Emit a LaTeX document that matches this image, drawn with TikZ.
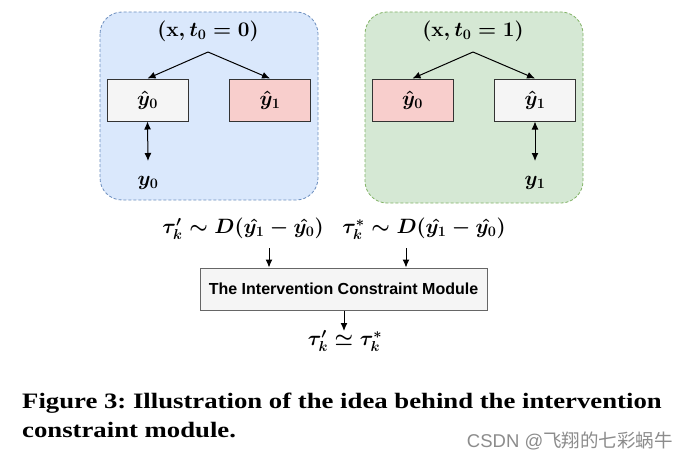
\documentclass[tikz,border=0pt]{standalone}
\usepackage{amsmath,bm}
\usepackage{fontspec}
\usetikzlibrary{arrows.meta}
\newfontfamily\sansb{Liberation Sans}
\newfontfamily\capfont{Liberation Serif}[FakeStretch=1.215]
\newfontfamily\cjk{Noto Sans CJK SC}
\definecolor{bluefill}{HTML}{DAE8FC}
\definecolor{blueline}{HTML}{6C8EBF}
\definecolor{greenfill}{HTML}{D5E8D4}
\definecolor{greenline}{HTML}{82B366}
\definecolor{greyfill}{HTML}{F5F5F5}
\definecolor{greyline}{HTML}{666666}
\definecolor{redfill}{HTML}{F8CECC}
\tikzset{
  group/.style={rounded corners=22pt, line width=0.8pt, dash pattern=on 3pt off 2pt},
  ybox/.style={draw=black!80, line width=1pt, minimum width=81pt, minimum height=42pt, inner sep=0pt, font=\mathversion{bold}\fontsize{20}{24}\selectfont},
  arr/.style={-{Latex[length=8pt,width=7pt]}, line width=1pt},
  darr/.style={{Latex[length=8pt,width=7pt]}-{Latex[length=8pt,width=7pt]}, line width=1pt},
  mlabel/.style={font=\mathversion{bold}\fontsize{20}{24}\selectfont, inner sep=0pt},
  tlabel/.style={font=\mathversion{bold}\fontsize{21}{24}\selectfont, inner sep=0pt},
  caption/.style={anchor=base west, inner sep=0pt, font=\capfont\bfseries\frenchspacing\fontsize{22}{26}\selectfont}
}
\begin{document}
\begin{tikzpicture}[x=1pt,y=-1pt]
\useasboundingbox (0,0) rectangle (690,460);
\fill[white] (0,0) rectangle (690,460);
% groups
\draw[group, draw=blueline, fill=bluefill] (100,12) rectangle (318,200);
\draw[group, draw=greenline, fill=greenfill] (365,12) rectangle (583,203);
% left group
\node[mlabel] (tl) at (208,31) {$(\mathbf{x}, t_0 = 0)$};
\coordinate (sl) at (208,52);
\node[ybox, fill=greyfill] (l0) at (147.5,100) {$\hat{y}_0$};
\node[ybox, fill=redfill] (l1) at (270,100) {$\hat{y}_1$};
\draw[arr] (sl) -- (l0.north);
\draw[arr] (sl) -- (l1.north);
\node[mlabel] (y0) at (148,183) {$y_0$};
\coordinate (y0t) at (148,161);
\draw[darr] (l0.south) -- (y0t);
% right group
\node[mlabel] (tr) at (473,31) {$(\mathbf{x}, t_0 = 1)$};
\coordinate (sr) at (473,52);
\node[ybox, fill=redfill] (r0) at (412.5,100) {$\hat{y}_0$};
\node[ybox, fill=greyfill] (r1) at (535,100) {$\hat{y}_1$};
\draw[arr] (sr) -- (r0.north);
\draw[arr] (sr) -- (r1.north);
\node[mlabel] (y1) at (535,183) {$y_1$};
\coordinate (y1t) at (535,161);
\draw[darr] (r1.south) -- (y1t);
% tau labels
\node[tlabel] (ta) at (243,229) {$\tau_k' \sim D(\hat{y_1} - \hat{y_0})$};
\node[tlabel] (tb) at (424,229) {$\tau_k^* \sim D(\hat{y_1} - \hat{y_0})$};
% module
\node[draw=greyline, fill=greyfill, line width=1pt, minimum width=287pt, minimum height=42pt, inner sep=0pt,
      font=\sansb\bfseries\fontsize{16}{19}\selectfont] (mod) at (343.5,289) {The Intervention Constraint Module};
\coordinate (aa) at (269,248);
\coordinate (bb) at (406,248);
\draw[arr] (aa) -- (aa |- mod.north);
\draw[arr] (bb) -- (bb |- mod.north);
\node[mlabel] (res) at (345,341) {$\tau_k' \simeq \tau_k^*$};
\coordinate (mo) at (344,331);
\draw[arr] (mod.south -| mo) -- (mo);
% caption
\node[caption] (c1) at (22,408) {Figure 3: Illustration of the idea behind the intervention};
\node[caption] (c2) at (22,437) {constraint module.};
\node[anchor=base east, inner sep=0pt, text=black!45, font=\fontsize{18.5}{22}\selectfont] (wm) at (673,447) {\sansb CSDN @\cjk 飞翔的七彩蜗牛};
\end{tikzpicture}
\end{document}
